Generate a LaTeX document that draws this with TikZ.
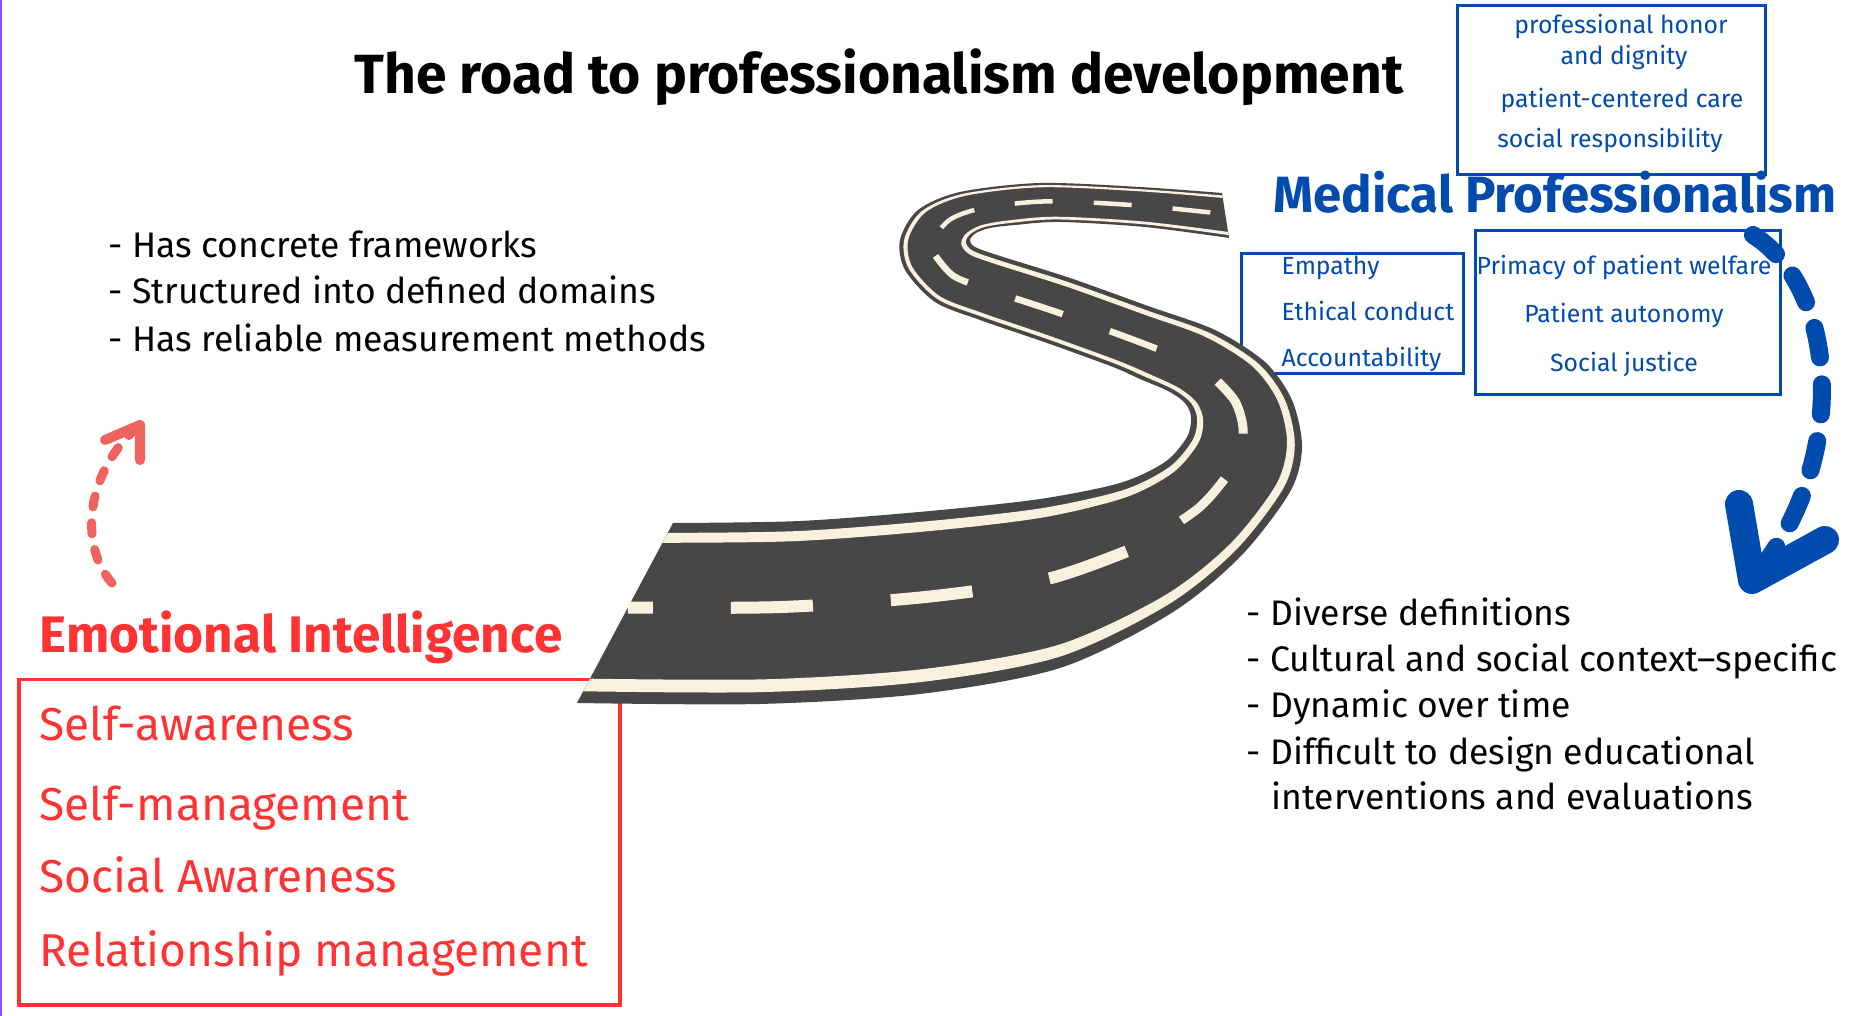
\documentclass[tikz,border=0pt]{standalone}
\usepackage{fontspec}
\setmainfont{Fira Sans}
\usetikzlibrary{calc}
\definecolor{roadgray}{RGB}{71,71,71}
\definecolor{roadcream}{RGB}{249,240,222}
\definecolor{mpblue}{RGB}{0,75,173}
\definecolor{eired}{RGB}{255,51,51}
\definecolor{arrowred}{RGB}{240,98,93}
\definecolor{edgepurple}{RGB}{140,82,255}
\newcommand\fsz[2]{\fontsize{#1pt}{#2pt}\selectfont}

\begin{document}
\begin{tikzpicture}[x=0.01cm,y=-0.01cm]
    \tikzstyle{bluebox}=[rectangle,draw=mpblue,line width=0.028cm,inner sep=0pt,anchor=north west]
    \tikzstyle{boxtext}=[text=mpblue,inner sep=0pt,font=\fsz{7.05}{8.6}]
    \tikzstyle{bullet}=[anchor=base west,inner sep=0pt,font=\fsz{10.1}{12}]
    \tikzstyle{eiitem}=[anchor=base west,inner sep=0pt,text=eired,font=\fsz{13.1}{15}]
    \useasboundingbox (0,0) rectangle (1853,1016);
    \fill[white] (0,0) rectangle (1853,1016);
    \draw[edgepurple,line width=0.025cm] (1.2,0) -- (1.2,1016);

    % title and headings
    \node[anchor=base,inner sep=0pt,font=\fsz{15.7}{18}\bfseries] (title) at (879,94) {The road to professionalism development};
    \node[anchor=base,inner sep=0pt,text=mpblue,font=\fsz{14.5}{17}\bfseries] (mp) at (1555,213) {Medical Professionalism};
    \node[anchor=base west,inner sep=0pt,text=eired,font=\fsz{14.6}{17}\bfseries] (ei) at (39,653) {Emotional Intelligence};

    % boxes
    \node[bluebox,minimum width=3.08cm,minimum height=1.69cm] (valuesbox) at (1456,4) {};
    \node[bluebox,minimum width=2.22cm,minimum height=1.2cm] (virtuebox) at (1240,252) {};
    \node[bluebox,minimum width=3.05cm,minimum height=1.64cm] (principlebox) at (1474,229) {};
    \node[rectangle,draw=eired,line width=0.035cm,inner sep=0pt,anchor=north west,minimum width=6.01cm,minimum height=3.25cm] (eibox) at (17,678) {};

    \foreach \i/\x/\y/\txt in {1/1621/34/professional honor, 2/1624/65/and dignity, 3/1622/108/patient-centered care, 4/1610/148/social responsibility}
        \node[boxtext,anchor=base] (value-\i) at (\x,\y) {\txt};
    \foreach \i/\y/\txt in {1/275/Empathy, 2/321/Ethical conduct, 3/367/Accountability}
        \node[boxtext,anchor=base west] (virtue-\i) at (1281,\y) {\txt};
    \foreach \i/\y/\txt in {1/275/Primacy of patient welfare, 2/323/Patient autonomy, 3/372/Social justice}
        \node[boxtext,anchor=base] (principle-\i) at (1624,\y) {\txt};
    \foreach \i/\y/\txt in {1/741/Self-awareness, 2/821/Self-management, 3/893/Social Awareness, 4/967/Relationship management}
        \node[eiitem] (skill-\i) at (39,\y) {\txt};

    % bullet lists
    \foreach \i/\y/\txt in {1/258/- Has concrete frameworks, 2/304/- Structured into defined domains, 3/352/- Has reliable measurement methods}
        \node[bullet] (pro-\i) at (108,\y) {\txt};
    \foreach \i/\x/\y/\txt in {1/1246/626/- Diverse definitions, 2/1246/672/- Cultural and social context–specific, 3/1246/718/- Dynamic over time, 4/1246/765/- Difficult to design educational, 5/1271/810/interventions and evaluations}
        \node[bullet] (con-\i) at (\x,\y) {\txt};

    % the road: cross sections from the near end to the far end
    \foreach \i/\lx/\ly/\rx/\ry in {1/673/523/577/703, 2/800/521/760/704, 3/930/511/920/694, 4/1040/499/1060/668,
        5/1120/483/1170/614, 6/1165/462/1240/557, 7/1187/437/1290/492, 8/1191/417/1302/447,
        9/1185/403/1292/400, 10/1168/391/1265/362, 11/1140/379/1215/330, 12/1113/367/1148/306,
        13/1047/343/1070/278, 14/980/320/1000/256, 15/935/302/975/247, 16/905/270/970/240,
        17/900/240/976/233, 18/918/210/990/228, 19/960/192/1015/225, 20/1040/183/1060/222,
        21/1140/187/1145/227, 22/1222/193/1229/238}{
        \coordinate (l\i) at (\lx,\ly);
        \coordinate (r\i) at (\rx,\ry);
        \coordinate (la\i) at ($(l\i)!0.055!(r\i)$);
        \coordinate (lb\i) at ($(l\i)!0.11!(r\i)$);
        \coordinate (ra\i) at ($(l\i)!0.865!(r\i)$);
        \coordinate (rb\i) at ($(l\i)!0.935!(r\i)$);
        \coordinate (c\i) at ($(l\i)!0.47!(r\i)$);
    }
    \fill[roadgray] plot[smooth,samples at={1,...,22}] (l\x) -- plot[smooth,samples at={22,21,...,1}] (r\x) -- cycle;
    \fill[roadcream] plot[smooth,samples at={1,...,22}] (la\x) -- plot[smooth,samples at={22,21,...,1}] (lb\x) -- cycle;
    \fill[roadcream] plot[smooth,samples at={1,...,22}] (ra\x) -- plot[smooth,samples at={22,21,...,1}] (rb\x) -- cycle;
    \draw[roadcream,line width=0.12cm,dash pattern=on 0.82cm off 0.78cm,dash phase=0.57cm] plot[smooth,samples at={1,...,5}] (c\x);
    \draw[roadcream,line width=0.09cm,dash pattern=on 0.6cm off 0.5cm,dash phase=0.65cm] plot[smooth,samples at={5,...,10}] (c\x);
    \draw[roadcream,line width=0.065cm,dash pattern=on 0.5cm off 0.5cm,dash phase=0.8cm] plot[smooth,samples at={11,...,16}] (c\x);
    \draw[roadcream,line width=0.045cm,dash pattern=on 0.38cm off 0.41cm,dash phase=0.49cm] plot[smooth,samples at={16,...,22}] (c\x);

    % dashed arrows
    \coordinate (ei-tail) at (112,583);
    \coordinate (ei-tip) at (140,425);
    \draw[arrowred,line width=0.09cm,line cap=round,dash pattern=on 0.11cm off 0.16cm] (ei-tail) .. controls (78,545) and (86,470) .. (ei-tip);
    \draw[arrowred,line width=0.1cm,line cap=round,line join=round] (ei-tip) ++(-35,15) -- (ei-tip) -- ++(0,35);

    \coordinate (mp-tail) at (1753,235);
    \coordinate (mp-tip) at (1752,580);
    \draw[mpblue,line width=0.18cm,line cap=round,dash pattern=on 0.3cm off 0.27cm] (mp-tail) .. controls (1840,290) and (1850,465) .. (mp-tip);
    \draw[mpblue,line width=0.28cm,line cap=round,line join=round] (mp-tip) ++(-13,-76) -- (mp-tip) -- ++(73,-40);
\end{tikzpicture}
\end{document}
